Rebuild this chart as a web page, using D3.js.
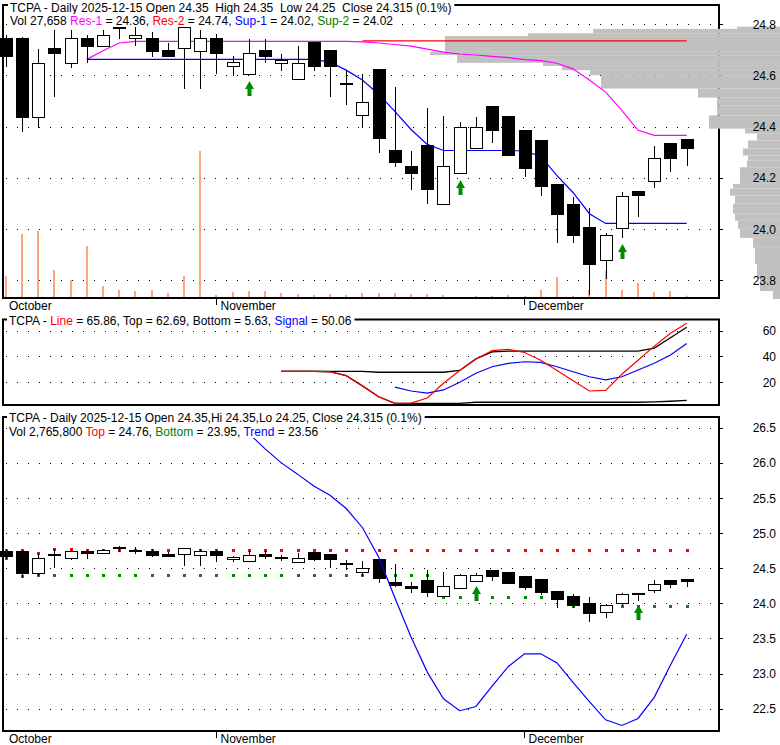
<!DOCTYPE html>
<html><head><meta charset="utf-8">
<script src="https://cdn.jsdelivr.net/npm/d3@7/dist/d3.min.js"></script>
<style>
html,body{margin:0;padding:0;background:#fff;}
svg{display:block;}
text{font-family:"Liberation Sans",Arial,sans-serif;font-size:12px;white-space:pre;}
</style>
</head><body>
<svg id="c" width="780" height="745"></svg>
<script>
// ---------------- DATA ----------------
const dates = ["2025-10-15","2025-10-16","2025-10-17","2025-10-20","2025-10-21","2025-10-22","2025-10-23","2025-10-24","2025-10-27","2025-10-28","2025-10-29","2025-10-30","2025-10-31",
"2025-11-03","2025-11-04","2025-11-05","2025-11-06","2025-11-07","2025-11-10","2025-11-11","2025-11-12","2025-11-13","2025-11-14","2025-11-17","2025-11-18","2025-11-19","2025-11-20","2025-11-21","2025-11-24","2025-11-25","2025-11-26","2025-11-28",
"2025-12-01","2025-12-02","2025-12-03","2025-12-04","2025-12-05","2025-12-08","2025-12-09","2025-12-10","2025-12-11","2025-12-12","2025-12-15"];
const openP  = [24.748,24.748,24.437,24.708,24.650,24.748,24.715,24.800,24.748,24.748,24.698,24.708,24.695,24.748,24.638,24.607,24.698,24.648,24.587,24.729,24.698,24.570,24.446,24.626,24.309,24.248,24.330,24.097,24.219,24.317,24.479,24.440,24.389,24.349,24.177,24.099,24.009,23.878,24.006,24.148,24.186,24.338,24.350];
const highP  = [24.760,24.750,24.705,24.776,24.776,24.757,24.776,24.810,24.796,24.770,24.727,24.790,24.776,24.763,24.675,24.744,24.744,24.685,24.714,24.729,24.698,24.620,24.604,24.626,24.557,24.306,24.473,24.443,24.417,24.437,24.479,24.440,24.389,24.349,24.177,24.127,24.084,23.985,24.146,24.148,24.326,24.338,24.350];
const lowP   = [24.639,24.382,24.400,24.518,24.633,24.652,24.715,24.748,24.720,24.678,24.676,24.550,24.550,24.609,24.603,24.607,24.652,24.622,24.587,24.622,24.518,24.490,24.400,24.300,24.248,24.156,24.100,24.097,24.219,24.317,24.339,24.288,24.208,24.133,23.951,23.951,23.748,23.810,23.970,24.052,24.166,24.228,24.250];
const closeP = [24.676,24.437,24.650,24.688,24.748,24.715,24.759,24.785,24.759,24.695,24.676,24.790,24.748,24.688,24.654,24.689,24.676,24.659,24.650,24.637,24.637,24.570,24.498,24.356,24.264,24.218,24.155,24.246,24.400,24.400,24.387,24.288,24.237,24.167,24.058,23.975,23.865,23.976,24.129,24.135,24.278,24.276,24.315];
const volume = [296000,868000,909000,378000,241000,705000,160000,105000,91000,105000,64000,296000,2000000,37000,78000,91000,91000,64000,50000,37000,50000,37000,64000,64000,64000,50000,50000,37000,10000,23000,23000,37000,23000,105000,286000,23000,105000,364000,105000,200000,78000,91000,27658];
// overlay lines (price panel)
const res1 = [null,null,null,null,null,24.663,24.697,24.727,24.733,24.733,24.733,24.733,24.733,24.733,24.733,24.733,24.733,24.733,24.733,24.733,24.733,24.733,24.731,24.727,24.721,24.715,24.703,24.691,24.684,24.680,24.675,24.670,24.662,24.658,24.648,24.625,24.582,24.535,24.464,24.386,24.366,24.366,24.366];
const res2 = [null,null,null,null,null,null,null,null,null,null,null,null,null,null,null,null,null,null,null,null,null,null,24.735,24.735,24.735,24.735,24.735,24.735,24.735,24.735,24.735,24.735,24.735,24.735,24.735,24.735,24.735,24.735,24.735,24.735,24.735,24.735,24.735];
const sup1 = [null,null,null,null,null,24.663,24.663,24.663,24.663,24.663,24.663,24.663,24.663,24.663,24.663,24.663,24.663,24.663,24.663,24.663,24.652,24.621,24.582,24.527,24.460,24.389,24.331,24.307,24.307,24.307,24.307,24.307,24.305,24.284,24.209,24.142,24.060,24.022,24.022,24.022,24.022,24.022,24.022];
const buyArrows1 = [15, 28, 38];
// volume-at-price histogram
const vapEdges = [24.791,24.782,24.765,24.754,24.6925,24.6796,24.6494,24.6376,24.6208,24.6012,24.549,24.5137,24.4835,24.4443,24.3922,24.3737,24.3463,24.3149,24.2875,24.2678,24.2416,24.1765,24.158,24.1306,24.0992,24.06,24.0325,24.0012,23.9659,23.9267,23.864,23.809,23.758,23.727];
const vapVolume = [43,187,252,335,350,323,237,218,190,179,82,63,63,71,35,23,32,37,32,33,40,47,50,45,47,45,42,40,27,25,23,20,7];
// oscillator panel
const oscLine   = [null,null,null,null,null,null,null,null,null,null,null,null,null,null,null,null,null,28.3,28.3,28.3,28,25,17,8.5,3.3,3.5,7.5,19,29,38,44.5,45.5,43,37,29,21,13,13.5,26,37,48,58,65.86];
const oscTop    = [null,null,null,null,null,null,null,null,null,null,null,null,null,null,null,null,null,28.3,28.3,28.3,28.3,28.3,28.3,27.6,27.6,27.6,27.6,27.6,29,38,43.5,44,44,44,44,44,44,44,44,44,46.5,54.5,62.69];
const oscBottom = [null,null,null,null,null,null,null,null,null,null,null,null,null,null,null,null,null,28.3,28.3,28.3,28,25,17,8.5,3.3,3.3,3.3,3.3,3.3,4.2,4.2,4.2,4.2,4.2,4.2,4.2,4.2,4.2,4.2,4.2,4.5,5,5.63];
const oscSignal = [null,null,null,null,null,null,null,null,null,null,null,null,null,null,null,null,null,null,null,null,null,null,null,null,16,13,11.3,13.8,19.8,26.8,31.9,34.5,35.8,35.3,31.9,28,24.1,21.6,24.1,29.4,34.6,41,50.06];
// trend panel
const bandTop    = [24.76,24.76,24.71,24.78,24.78,24.76,24.76,24.76,24.76,24.76,24.76,24.76,24.76,24.76,24.76,24.76,24.76,24.76,24.76,24.76,24.76,24.76,24.76,24.76,24.76,24.76,24.76,24.76,24.76,24.76,24.76,24.76,24.76,24.76,24.76,24.76,24.76,24.76,24.76,24.76,24.76,24.76,24.76];
const bandBottom = [24.64,24.385,24.40,24.40,24.40,24.40,24.40,24.40,24.40,24.40,24.40,24.40,24.40,24.40,24.40,24.40,24.40,24.40,24.40,24.40,24.40,24.40,24.40,24.40,24.40,24.40,24.40,24.094,24.094,24.094,24.094,24.094,24.094,24.094,24.094,23.955,23.955,23.955,23.955,23.955,23.955,23.955,23.955];
const trend = [null,null,null,null,null,null,null,null,null,null,null,null,null,null,null,26.42,26.2,26.0,25.84,25.67,25.54,25.35,25.08,24.66,24.08,23.52,23.02,22.64,22.47,22.53,22.82,23.1,23.28,23.28,23.15,22.87,22.6,22.34,22.26,22.36,22.66,23.12,23.56];
const buyArrows3 = [29, 39];
// ticks
const priceTicks = [24.8,24.6,24.4,24.2,24.0,23.8];
const oscTicks = [60,40,20];
const trendTicks = [26.5,26.0,25.5,25.0,24.5,24.0,23.5,23.0,22.5];
const monthNames = ["October","November","December"];

// ---------------- LAYOUT ----------------
const svg = d3.select("#c");
const L = 3, R = 719;
const P1 = {top:5, bottom:298}, P2 = {top:319.5, bottom:405}, P3 = {top:417, bottom:731};

const x = d3.scalePoint().domain(dates).range([5.7, 686.7]);
const y1 = d3.scaleLinear().domain([23.8, 24.8]).range([280.3, 24.3]);
const yV = d3.scaleLinear().domain([0, 2000000]).range([297.7, 151]);
const y2 = d3.scaleLinear().domain([20, 60]).range([382, 330.7]);
const y3 = d3.scaleLinear().domain([22.5, 26.5]).range([708.6, 427.8]);
const xVap = d3.scaleLinear().domain([0, 350]).range([780, 430]);
const px = d => Math.round(x(d));

const GREEN = "#008c00";

function grid(g, ticks, ys, xEnd) {
  ticks.forEach(t => {
    const yy = Math.round(ys(t)) + 0.5;
    g.append("line").attr("x1", 6).attr("x2", 716).attr("y1", yy).attr("y2", yy)
      .attr("stroke", "#000").attr("stroke-width", 1).attr("stroke-dasharray", "1,10");
    g.append("line").attr("x1", R).attr("x2", R + 4).attr("y1", yy).attr("y2", yy).attr("stroke", "#000");
  });
}
function tickLabels(g, ticks, ys, fmt) {
  ticks.forEach(t => {
    g.append("text").attr("x", 776).attr("y", ys(t) + 4.5).attr("text-anchor", "end").attr("fill", "#000").text(fmt(t));
  });
}
function candles(g, ys) {
  dates.forEach((d, i) => {
    const cx = px(d);
    const o = openP[i], c = closeP[i];
    g.append("line").attr("x1", cx + 0.5).attr("x2", cx + 0.5)
      .attr("y1", Math.round(ys(highP[i]))).attr("y2", Math.round(ys(lowP[i])) + 1)
      .attr("stroke", "#000").attr("stroke-width", 1);
    const top = Math.round(ys(Math.max(o, c))), bot = Math.round(ys(Math.min(o, c)));
    g.append("rect").attr("x", cx - 5.5).attr("y", top + 0.5).attr("width", 12).attr("height", Math.max(1, bot - top))
      .attr("fill", c > o ? "#fff" : "#000").attr("stroke", "#000").attr("stroke-width", 1);
  });
}
function arrow(g, cx, ytop) {
  const p = `M${cx+0.5},${ytop} L${cx+5},${ytop+8} L${cx+2.5},${ytop+8} L${cx+2.5},${ytop+15} L${cx-1.5},${ytop+15} L${cx-1.5},${ytop+8} L${cx-4},${ytop+8} Z`;
  g.append("path").attr("d", p).attr("fill", GREEN);
}
function lineOf(g, vals, ys, color, w) {
  const ln = d3.line().defined(v => v != null).x((v, i) => x(dates[i])).y(v => ys(v));
  g.append("path").attr("d", ln(vals)).attr("fill", "none").attr("stroke", color).attr("stroke-width", w || 1);
}
function frame(g, P) {
  g.append("rect").attr("x", L).attr("y", P.top).attr("width", R - L).attr("height", P.bottom - P.top)
    .attr("fill", "none").attr("stroke", "#000").attr("stroke-width", 2);
}
function titleLine(g, tx, base, boxY, boxH, parts) {
  const bg = g.append("rect").attr("fill", "#fff");
  const t = g.append("text").attr("x", tx).attr("y", base);
  parts.forEach(([s, c]) => t.append("tspan").attr("fill", c).text(s));
  const w = t.node().getComputedTextLength();
  bg.attr("x", tx - 2).attr("y", boxY).attr("width", w + 5).attr("height", boxH);
}
function monthAxis(g, yLine, base) {
  const firsts = [];
  dates.forEach((d, i) => { if (i > 0 && d.slice(5, 7) !== dates[i - 1].slice(5, 7)) firsts.push(i); });
  g.append("text").attr("x", 9).attr("y", base).text(monthNames[0]);
  firsts.forEach((i, k) => {
    const cx = Math.round(x(dates[i]) - 0.5) + 0.5;
    g.append("line").attr("x1", cx).attr("x2", cx).attr("y1", yLine).attr("y2", yLine + 7).attr("stroke", "#000");
    g.append("text").attr("x", cx + 4).attr("y", base).text(monthNames[k + 1]);
  });
}

// ---------------- PANEL 1 ----------------
const g1 = svg.append("g");
grid(g1, priceTicks, y1);
// volume bars
dates.forEach((d, i) => {
  const cx = px(d);
  g1.append("rect").attr("x", cx - 1).attr("y", yV(volume[i])).attr("width", 2).attr("height", yV(0) - yV(volume[i])).attr("fill", "#ffa47e");
});
frame(g1, P1);
// volume at price
vapVolume.forEach((v, k) => {
  const yt = y1(vapEdges[k]), yb = y1(vapEdges[k + 1]);
  g1.append("rect").attr("x", xVap(v)).attr("y", yt).attr("width", 780 - xVap(v)).attr("height", yb - yt).attr("fill", "#c0c0c0");
});
lineOf(g1, res2, y1, "#ff0000", 1.2);
lineOf(g1, res1, y1, "#ff00ff", 1.2);
lineOf(g1, sup1, y1, "#0000ff", 1.2);
candles(g1, y1);
buyArrows1.forEach(i => arrow(g1, px(dates[i]), Math.round(y1(lowP[i])) + 7));
tickLabels(g1, priceTicks, y1, d3.format(".1f"));
titleLine(g1, 10, 11.5, 0, 14, [["TCPA - Daily 2025-12-15 Open 24.35  High 24.35  Low 24.25  Close 24.315 (0.1%)", "#000"]]);
titleLine(g1, 10, 25, 14, 13, [["Vol 27,658 ", "#000"], ["Res-1", "#ff00ff"], [" = 24.36, ", "#000"], ["Res-2", "#ff0000"], [" = 24.74, ", "#000"], ["Sup-1", "#0000ff"], [" = 24.02, ", "#000"], ["Sup-2", "#008000"], [" = 24.02", "#000"]]);
monthAxis(g1, P1.bottom, 309.5);

// ---------------- PANEL 2 ----------------
const g2 = svg.append("g");
grid(g2, oscTicks, y2);
frame(g2, P2);
lineOf(g2, oscTop, y2, "#000", 1.3);
lineOf(g2, oscBottom, y2, "#000", 1.3);
lineOf(g2, oscSignal, y2, "#0000ff", 1.2);
lineOf(g2, oscLine, y2, "#ff0000", 1.2);
tickLabels(g2, oscTicks, y2, d3.format("d"));
titleLine(g2, 9, 325, 313, 14, [["TCPA - ", "#000"], ["Line", "#ff0000"], [" = 65.86, Top = 62.69, Bottom = 5.63, ", "#000"], ["Signal", "#0000ff"], [" = 50.06", "#000"]]);

// ---------------- PANEL 3 ----------------
const g3 = svg.append("g");
grid(g3, trendTicks, y3);
frame(g3, P3);
dates.forEach((d, i) => {
  const cx = px(d);
  g3.append("rect").attr("x", cx - 1).attr("y", Math.round(y3(bandTop[i])) - 1).attr("width", 3).attr("height", 3).attr("fill", "#ff0000");
  g3.append("rect").attr("x", cx - 1).attr("y", Math.round(y3(bandBottom[i])) - 1).attr("width", 3).attr("height", 3).attr("fill", GREEN);
});
candles(g3, y3);
lineOf(g3, trend, y3, "#0000ff", 1.2);
buyArrows3.forEach(i => arrow(g3, px(dates[i]), Math.round(y3(lowP[i])) + 5));
tickLabels(g3, trendTicks, y3, d3.format(".1f"));
titleLine(g3, 9, 422, 409, 15, [["TCPA - Daily 2025-12-15 Open 24.35,Hi 24.35,Lo 24.25, Close 24.315 (0.1%)", "#000"]]);
titleLine(g3, 9, 436, 424, 14, [["Vol 2,765,800 ", "#000"], ["Top", "#ff0000"], [" = 24.76, ", "#000"], ["Bottom", "#008000"], [" = 23.95, ", "#000"], ["Trend", "#0000ff"], [" = 23.56", "#000"]]);
monthAxis(g3, P3.bottom, 743);
</script>
</body></html>
